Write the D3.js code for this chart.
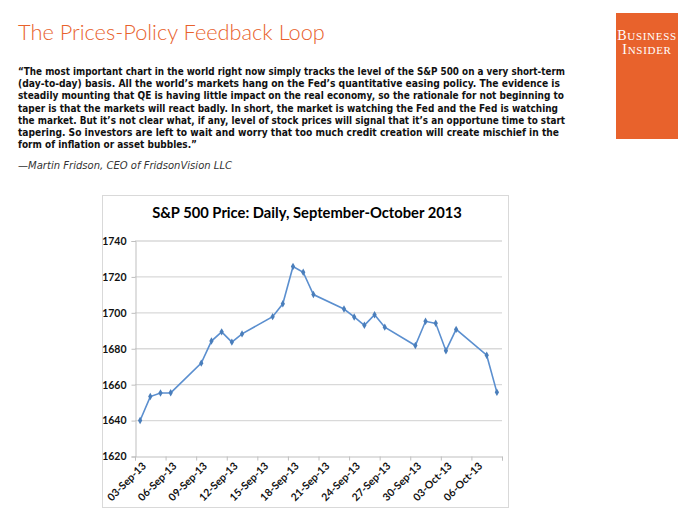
<!DOCTYPE html>
<html><head><meta charset="utf-8">
<script src="https://cdn.jsdelivr.net/npm/d3@7"></script>
<style>
html,body{margin:0;padding:0;background:#fff;}
svg{display:block;}
</style></head>
<body>
<svg id="c" width="700" height="525"></svg>
<script>
// ---- data ----
const dates = ["2013-09-03","2013-09-04","2013-09-05","2013-09-06","2013-09-09","2013-09-10","2013-09-11","2013-09-12","2013-09-13",
  "2013-09-16","2013-09-17","2013-09-18","2013-09-19","2013-09-20","2013-09-23","2013-09-24","2013-09-25","2013-09-26","2013-09-27",
  "2013-09-30","2013-10-01","2013-10-02","2013-10-03","2013-10-04","2013-10-07","2013-10-08"];
const prices = [1639.77,1653.08,1655.08,1655.17,1671.71,1683.99,1689.13,1683.42,1687.99,
  1697.60,1704.76,1725.52,1722.34,1709.91,1701.84,1697.42,1692.77,1698.67,1691.75,
  1681.55,1695.00,1693.87,1678.66,1690.50,1676.12,1655.45];
const yTicks = [1620,1640,1660,1680,1700,1720,1740];
const xLabelDates = ["2013-09-03","2013-09-06","2013-09-09","2013-09-12","2013-09-15","2013-09-18","2013-09-21",
  "2013-09-24","2013-09-27","2013-09-30","2013-10-03","2013-10-06"];
const pageTitle = "The Prices-Policy Feedback Loop";
const chartTitle = "S&P 500 Price: Daily, September-October 2013";
const quoteLines = [
  "\u201CThe most important chart in the world right now simply tracks the level of the S&P 500 on a very short-term",
  "(day-to-day) basis. All the world\u2019s markets hang on the Fed\u2019s quantitative easing policy. The evidence is",
  "steadily mounting that QE is having little impact on the real economy, so the rationale for not beginning to",
  "taper is that the markets will react badly. In short, the market is watching the Fed and the Fed is watching",
  "the market. But it\u2019s not clear what, if any, level of stock prices will signal that it\u2019s an opportune time to start",
  "tapering. So investors are left to wait and worry that too much credit creation will create mischief in the",
  "form of inflation or asset bubbles.\u201D"
];
const attribution = "\u2014Martin Fridson, CEO of FridsonVision LLC";

const parse = d3.timeParse("%Y-%m-%d");
const pts = dates.map((d,i)=>({date:parse(d), v:prices[i]}));
const svg = d3.select("#c");
const orange = "#E8622C";

function fitSize(sel, target){
  const w = sel.node().getComputedTextLength();
  const fs = parseFloat(sel.attr("font-size"));
  sel.attr("font-size", fs*target/w);
}

// ---- header ----
const t = svg.append("text").attr("x",18).attr("y",40)
  .attr("font-family","'Lato','Open Sans',sans-serif").attr("font-weight",300)
  .attr("font-size",22).attr("fill",orange).text(pageTitle);
fitSize(t, 307);

// logo
svg.append("rect").attr("x",616).attr("y",13).attr("width",62).attr("height",126).attr("fill",orange);
function smallCaps(word, x, y){
  const tx = svg.append("text").attr("x",x).attr("y",y).attr("text-anchor","middle")
    .attr("font-family","'Liberation Serif','DejaVu Serif',serif").attr("fill","#fff")
    .attr("letter-spacing",0.7);
  tx.append("tspan").attr("font-size",14).text(word[0]);
  tx.append("tspan").attr("font-size",11).text(word.slice(1));
}
smallCaps("BUSINESS",647,40);
smallCaps("INSIDER",647,54);

// quote
const lineEnds = [565,560,564,558,565,559,197];
quoteLines.forEach((s,i)=>{
  const q = svg.append("text").attr("x",18).attr("y",75+i*12.2)
    .attr("font-family","'DejaVu Sans',sans-serif").attr("font-weight","bold")
    .attr("font-size",10.5).attr("fill","#111").text(s);
  q.attr("textLength", lineEnds[i]-18).attr("lengthAdjust","spacingAndGlyphs");
});
const at = svg.append("text").attr("x",18).attr("y",169)
  .attr("font-family","'DejaVu Sans',sans-serif").attr("font-style","italic")
  .attr("font-size",10.5).attr("fill","#333").text(attribution);
at.attr("textLength",214).attr("lengthAdjust","spacingAndGlyphs");

// ---- chart ----
svg.append("rect").attr("x",102.5).attr("y",195.5).attr("width",406).attr("height",312)
  .attr("fill","#fff").attr("stroke","#d9d9d9").attr("stroke-width",1);

const ct = svg.append("text").attr("x",307).attr("y",218).attr("text-anchor","middle")
  .attr("font-family","'Lato','Open Sans',sans-serif").attr("font-weight","bold")
  .attr("font-size",16).attr("fill","#000").text(chartTitle);
fitSize(ct, 310);

const x = d3.scaleTime()
  .domain([new Date(2013,8,2,12), new Date(2013,9,8,12)])
  .range([135, 502]);
const y = d3.scaleLinear().domain([1620,1740]).range([456, 240.5]);

// gridlines
svg.append("g").selectAll("line").data(yTicks.filter(v=>v>1620)).join("line")
  .attr("x1",135).attr("x2",502).attr("y1",d=>y(d)+0.5).attr("y2",d=>y(d)+0.5)
  .attr("stroke","#d9d9d9").attr("stroke-width",1.3);

// y axis
const ya = svg.append("g").attr("transform","translate(135.5,0.5)")
  .call(d3.axisLeft(y).tickValues(yTicks).tickSize(4).tickPadding(5).tickFormat(d3.format("d")));
ya.select(".domain").attr("stroke","#bfbfbf");
ya.selectAll(".tick line").attr("stroke","#bfbfbf");
ya.selectAll("text").attr("font-family","'Lato','Open Sans',sans-serif").attr("font-weight","bold")
  .attr("font-size",10.5).attr("fill","#111");

// x axis ticks (boundaries every 3 days)
const tickBounds = d3.range(0,13).map(k=>new Date(2013,8,2+3*k,12));
const xa = svg.append("g").attr("transform","translate(0,456.5)")
  .call(d3.axisBottom(x).tickValues(tickBounds).tickSize(4).tickFormat(""));
xa.select(".domain").attr("stroke","#bfbfbf");
xa.selectAll(".tick line").attr("stroke","#bfbfbf");

// x labels
const xl = svg.append("g").attr("transform","translate(0,456.5)")
  .call(d3.axisBottom(x).tickValues(xLabelDates.map(parse)).tickSize(0).tickFormat(d3.timeFormat("%d-%b-%y")));
xl.select(".domain").remove();
xl.selectAll("text").attr("font-family","'Lato','Open Sans',sans-serif").attr("font-weight","bold")
  .attr("font-size",10.5).attr("fill","#111")
  .attr("text-anchor","end").attr("dy",0)
  .attr("transform","translate(4,8) rotate(-45)");

// line
const line = d3.line().x(d=>x(d.date)).y(d=>y(d.v));
svg.append("path").datum(pts).attr("d",line).attr("fill","none")
  .attr("stroke","#5B8FCF").attr("stroke-width",1.6);
svg.append("g").selectAll("path").data(pts).join("path")
  .attr("transform",d=>`translate(${x(d.date)},${y(d.v)})`)
  .attr("d",d3.symbol(d3.symbolDiamond,16)).attr("fill","#4A7EBB");
</script>
</body></html>
